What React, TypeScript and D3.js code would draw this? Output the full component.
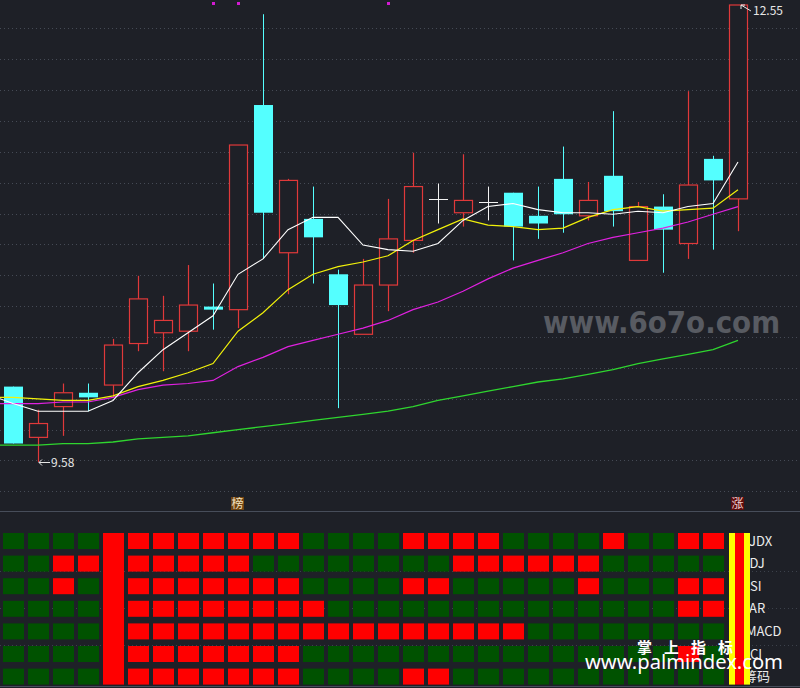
import React from "react";
import * as d3 from "d3";

// ---- price data (30 sessions) ----
const opens = [10.07, 9.74, 9.94, 10.03, 10.08, 10.35, 10.42, 10.43, 10.59, 10.57, 11.90, 10.94, 11.16, 10.80, 10.41, 10.73, 11.02, 11.29, 11.20, 11.27, 11.33, 11.18, 11.42, 11.18, 11.44, 10.89, 11.24, 11.00, 11.55, 11.29];
const closes = [9.70, 9.83, 10.03, 10.00, 10.34, 10.64, 10.50, 10.60, 10.57, 11.64, 11.20, 11.41, 11.04, 10.60, 10.73, 11.03, 11.37, 11.29, 11.28, 11.27, 11.11, 11.13, 11.19, 11.28, 11.21, 11.24, 11.09, 11.38, 11.41, 12.55];
const highs = [10.07, 9.92, 10.09, 10.09, 10.38, 10.79, 10.66, 10.86, 10.74, 11.64, 12.49, 11.42, 11.37, 10.83, 10.90, 11.29, 11.59, 11.39, 11.58, 11.37, 11.33, 11.37, 11.63, 11.40, 11.86, 11.27, 11.32, 11.99, 11.57, 12.55];
const lows = [9.70, 9.58, 9.75, 9.91, 10.00, 10.30, 10.17, 10.30, 10.44, 10.45, 10.90, 10.67, 10.74, 9.93, 10.41, 10.56, 10.94, 11.13, 11.11, 11.15, 10.89, 11.03, 11.07, 11.15, 11.11, 10.89, 10.81, 10.90, 10.96, 11.08];

// moving averages: first value belongs to the session before the window
const ma5 = [10.02, 9.96, 9.91, 9.91, 9.91, 9.98, 10.16, 10.31, 10.42, 10.53, 10.80, 10.90, 11.09, 11.17, 11.17, 10.99, 10.96, 10.95, 11.00, 11.15, 11.24, 11.26, 11.22, 11.20, 11.20, 11.19, 11.21, 11.20, 11.24, 11.26, 11.53];
const ma10 = [10.00, 10.00, 9.99, 9.98, 9.98, 10.01, 10.07, 10.11, 10.16, 10.22, 10.43, 10.55, 10.70, 10.80, 10.85, 10.88, 10.92, 11.02, 11.09, 11.16, 11.12, 11.11, 11.09, 11.10, 11.17, 11.22, 11.24, 11.21, 11.22, 11.23, 11.35];
const ma20 = [9.96, 9.96, 9.96, 9.97, 9.97, 10.00, 10.05, 10.08, 10.09, 10.11, 10.20, 10.26, 10.33, 10.37, 10.41, 10.45, 10.50, 10.57, 10.62, 10.69, 10.77, 10.84, 10.89, 10.94, 11.00, 11.04, 11.07, 11.10, 11.14, 11.19, 11.24];
const ma60 = [9.69, 9.69, 9.69, 9.70, 9.70, 9.71, 9.73, 9.74, 9.75, 9.77, 9.79, 9.81, 9.83, 9.85, 9.87, 9.89, 9.91, 9.94, 9.98, 10.01, 10.04, 10.07, 10.10, 10.12, 10.15, 10.18, 10.22, 10.25, 10.28, 10.31, 10.37];

const topDots = [8, 9, 15];
const badges = [
  { i: 9, label: "榜", bg: "#6e4312", fg: "#f3e2c0" },
  { i: 29, label: "涨", bg: "#5e0d0d", fg: "#f0d0d0" },
];
const lowLabel = { i: 1, value: "9.58" };
const highLabel = { i: 29, value: "12.55" };

// ---- indicator panel (1 = red, 0 = green), columns 0..28 ----
const rowNames = ["JDX", "KDJ", "RSI", "AR", "MACD", "CCI", "筹码"];
const rowJDX = [0,0,0,0,1, 1,1,1,1,1,1,1, 0,0,0,0, 1,1,1,1, 0,0,0,0, 1, 0,0, 1,1];
const rowKDJ = [0,0,1,1,1, 1,1,1,1,1, 0,0,0,0,0,0, 0,0, 1,1,1,1,1,1, 0,0,0,0,0];
const rowRSI = [0,0,1,0,1, 1,1,1,1,1,1,1, 0,0,0,0, 1,1, 0,0,0,0,0, 1, 0,0,0, 1,1];
const rowAR = [0,0,0,0,1, 1,1,1,1,1,1,1,1, 0,0,0,0,0,0,0,0,0,0,0,0,0,0, 1,1];
const rowMACD = [0,0,0,0,1, 1,1,1,1,1,1,1,1,1,1,1,1,1,1,1,1, 0,0,0,0,0,0,0,0];
const rowCCI = [0,0,0,0,1, 1,1,1,1,1,1,1, 0,0,0,0,0,0,0,0,0,0,0,0,0,0,0, 1, 0];
const rowChip = [0,0,0,0,1, 1,1,1,1,1,1,1, 0,0,0,0, 1,1, 0,0,0,0,0,0,0,0,0,0,0];
const rows = [rowJDX, rowKDJ, rowRSI, rowAR, rowMACD, rowCCI, rowChip];
const fullBarCol = 4;
const signalCol = 29;

const W = 800;
const H = 688;
const BG = "#1e2027";
const RED = "#e0393a";
const CYAN = "#54ffff";
const CELL_RED = "#ff0000";
const CELL_GREEN = "#005200";
const FONT = "'Noto Sans CJK SC', 'Noto Sans', sans-serif";

export default function App() {
  const x = d3.scaleLinear().domain([0, 29]).range([13, 738]);
  const y = d3.scaleLinear().domain([9.58, 12.55]).range([462, 5]);
  const maLine = d3
    .line<number>()
    .x((_, i) => x(i - 1))
    .y((d) => y(d));

  const gridYs = d3.range(16).map((k) => 28.3 + 30.87 * k);
  const rowY = (r: number) => 533 + r * 22.6;
  const cellH = 16;
  const labelX = [749, 741, 742, 749, 746, 742, 744];

  const candles = opens.map((o, i) => {
    const c = closes[i];
    const xc = x(i);
    const hy = y(highs[i]);
    const ly = y(lows[i]);
    const topY = y(Math.max(o, c));
    const botY = y(Math.min(o, c));
    const wx = xc + 0.5;
    if (c === o) {
      return (
        <g key={i} stroke="#f2f2f2" strokeWidth={1}>
          <line x1={wx} x2={wx} y1={hy} y2={ly} />
          <line x1={xc - 9} x2={xc + 10} y1={Math.round(topY) + 0.5} y2={Math.round(topY) + 0.5} />
        </g>
      );
    }
    if (c > o) {
      return (
        <g key={i} stroke={RED} strokeWidth={1.2}>
          <line x1={wx} x2={wx} y1={hy} y2={topY} />
          <line x1={wx} x2={wx} y1={botY} y2={ly} />
          <rect x={xc - 8.5} y={topY} width={18} height={Math.max(1, botY - topY)} fill={BG} />
        </g>
      );
    }
    return (
      <g key={i}>
        <line x1={wx} x2={wx} y1={hy} y2={ly} stroke={CYAN} strokeWidth={1} />
        <rect x={xc - 9} y={topY} width={19} height={Math.max(2, botY - topY)} fill={CYAN} />
      </g>
    );
  });

  const lowX = x(lowLabel.i);
  const lowY = y(+lowLabel.value);
  const hiX = x(highLabel.i);
  const hiY = y(+highLabel.value);

  return (
    <svg
      width={W}
      height={H}
      viewBox={`0 0 ${W} ${H}`}
      style={{ position: "absolute", left: 0, top: 0, display: "block" }}
      fontFamily={FONT}
    >
      <defs>
        <clipPath id="pricePanel">
          <rect x={0} y={0} width={W} height={511} />
        </clipPath>
      </defs>
      <rect x={0} y={0} width={W} height={H} fill={BG} />

      {/* grid */}
      {gridYs.map((gy, k) => (
        <line key={k} x1={0} x2={W} y1={Math.round(gy) + 0.5} y2={Math.round(gy) + 0.5} stroke="#454a55" strokeWidth={1} strokeDasharray="1 3" />
      ))}
      <line x1={0} x2={W} y1={511.5} y2={511.5} stroke="#474d5a" strokeWidth={1.2} />
      <line x1={0} x2={W} y1={686.5} y2={686.5} stroke="#474d5a" strokeWidth={1.2} />
      {[571, 608, 645].map((gy) => (
        <line key={gy} x1={0} x2={W} y1={gy + 0.5} y2={gy + 0.5} stroke="#3c414b" strokeDasharray="1 3" />
      ))}

      {/* watermark */}
      <text x={543} y={333} fontSize={30} fontWeight="bold" fill="#585b62" textLength={237} lengthAdjust="spacingAndGlyphs" fontFamily="'DejaVu Sans', sans-serif">
        www.6o7o.com
      </text>

      <g clipPath="url(#pricePanel)">
        {candles}
        <path d={maLine(ma60) || ""} fill="none" stroke="#2fd52f" strokeWidth={1.3} />
        <path d={maLine(ma20) || ""} fill="none" stroke="#e021e0" strokeWidth={1.2} />
        <path d={maLine(ma10) || ""} fill="none" stroke="#f2f20a" strokeWidth={1.2} />
        <path d={maLine(ma5) || ""} fill="none" stroke="#ffffff" strokeWidth={1.1} />
      </g>

      {topDots.map((i) => (
        <rect key={i} x={x(i) - 1} y={2} width={3} height={3} fill="#d21ad2" />
      ))}

      {/* low / high labels */}
      <g stroke="#e6e6e6" strokeWidth={1} fill="none">
        <line x1={lowX + 1} x2={lowX + 12} y1={lowY + 0.5} y2={lowY + 0.5} />
        <path d={`M${lowX + 4},${lowY - 2.5} L${lowX + 1},${lowY + 0.5} L${lowX + 4},${lowY + 3.5}`} />
        <path d={`M${hiX + 3},${hiY} Q${hiX + 8},${hiY + 3} ${hiX + 13},${hiY + 6}`} />
        <path d={`M${hiX + 3},${hiY + 4} L${hiX + 3},${hiY} L${hiX + 7},${hiY}`} />
      </g>
      <text x={lowX + 13} y={lowY + 4.5} fontSize={12} fill="#e6e6e6">{lowLabel.value}</text>
      <text x={hiX + 15} y={hiY + 10} fontSize={12} fill="#e6e6e6">{highLabel.value}</text>

      {/* badges */}
      {badges.map((b) => (
        <g key={b.i}>
          <rect x={x(b.i) - 7} y={497} width={13} height={13} fill={b.bg} />
          <text x={x(b.i) - 0.5} y={508} fontSize={12} textAnchor="middle" fill={b.fg}>{b.label}</text>
        </g>
      ))}

      {/* indicator cells */}
      {rows.map((row, r) =>
        row.map((v, i) =>
          i === fullBarCol ? null : (
            <rect key={`${r}-${i}`} x={x(i) - 10} y={rowY(r)} width={21} height={cellH} fill={v ? CELL_RED : CELL_GREEN} />
          )
        )
      )}
      <rect x={x(fullBarCol) - 10} y={rowY(0)} width={21} height={rowY(rows.length - 1) + cellH - rowY(0)} fill={CELL_RED} />

      {/* row labels */}
      {rowNames.map((n, r) => (
        <text key={n} x={labelX[r]} y={rowY(r) + cellH / 2 + 4.5} fontSize={13} fill="#ececec">{n}</text>
      ))}

      {/* signal column */}
      <g>
        <rect x={x(signalCol) - 9} y={rowY(0)} width={6} height={rowY(6) + cellH - rowY(0)} fill="#ffff00" />
        <rect x={x(signalCol) - 3} y={rowY(0)} width={9} height={rowY(6) + cellH - rowY(0)} fill="#ff0000" />
        <rect x={x(signalCol) + 6} y={rowY(0)} width={6} height={rowY(6) + cellH - rowY(0)} fill="#ffff00" />
      </g>

      {/* site marks */}
      <text x={637} y={653} fontSize={15} fontWeight="bold" fill="#ffffff" textLength={96} lengthAdjust="spacing">掌 上 指 标</text>
      <text x={585} y={669} fontSize={20} fill="#ffffff" textLength={198} lengthAdjust="spacingAndGlyphs" fontFamily="'Noto Sans', sans-serif">www.palmindex.com</text>
    </svg>
  );
}
